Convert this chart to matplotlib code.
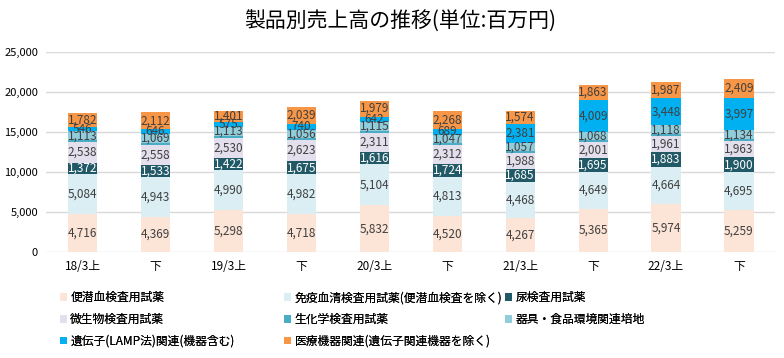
import matplotlib
matplotlib.use('Agg')
import matplotlib.pyplot as plt
import numpy as np

plt.rcParams['font.family'] = ['Noto Sans CJK JP', 'DejaVu Sans']

periods = ['18/3上', '下', '19/3上', '下', '20/3上', '下', '21/3上', '下', '22/3上', '下']

names = ['便潜血検査用試薬', '免疫血清検査用試薬(便潜血検査を除く)', '尿検査用試薬',
         '微生物検査用試薬', '生化学検査用試薬', '器具・食品環境関連培地',
         '遺伝子(LAMP法)関連(機器含む)', '医療機器関連(遺伝子関連機器を除く)']

fobt = [4716, 4369, 5298, 4718, 5832, 4520, 4267, 5365, 5974, 5259]
immuno = [5084, 4943, 4990, 4982, 5104, 4813, 4468, 4649, 4664, 4695]
urine = [1372, 1533, 1422, 1675, 1616, 1724, 1685, 1695, 1883, 1900]
micro = [2538, 2558, 2530, 2623, 2311, 2312, 1988, 2001, 1961, 1963]
biochem = [260, 230, 300, 250, 310, 250, 210, 230, 210, 270]   # no labels
media = [1113, 1069, 1113, 1056, 1115, 1047, 1057, 1068, 1118, 1134]
lamp = [546, 646, 575, 740, 642, 689, 2381, 4009, 3448, 3997]
medical = [1782, 2112, 1401, 2039, 1979, 2268, 1574, 1863, 1987, 2409]

series = [fobt, immuno, urine, micro, biochem, media, lamp, medical]
colors = ['#FCE4D6', '#DAEEF3', '#215967', '#E4DFEC', '#4BACC6', '#92CDDC', '#00B0F0', '#F79646']
txt_colors = ['#404040', '#404040', 'white', '#404040', None, '#404040', '#404040', '#404040']

fig = plt.figure(figsize=(7.84, 3.58), dpi=100)
ax = fig.add_axes([0.059, 0.296, 0.93, 0.559])

x = np.arange(len(periods))
bottom = np.zeros(len(periods))
handles = []
for vals, c, tc, nm in zip(series, colors, txt_colors, names):
    vals = np.array(vals, dtype=float)
    b = ax.bar(x, vals, 0.4, bottom=bottom, color=c, label=nm, zorder=2)
    handles.append(b)
    if tc is not None:
        for xi, v, b0 in zip(x, vals, bottom):
            ax.text(xi, b0 + v / 2, f'{int(v):,}', ha='center', va='center',
                    fontsize=8.5, color=tc, zorder=3)
    bottom += vals

ax.set_xlim(-0.5, 9.5)
ax.set_ylim(0, 25000)
ax.set_yticks(np.arange(0, 25001, 5000))
ax.set_yticklabels([f'{v:,}' for v in range(0, 25001, 5000)], fontsize=8)
ax.set_xticks(x)
ax.set_xticklabels(periods, fontsize=8.5)
ax.tick_params(length=0, pad=6)
ax.grid(axis='y', color='#D9D9D9', linewidth=1, zorder=0)
for s in ax.spines.values():
    s.set_visible(False)

fig.text(0.51, 0.939, '製品別売上高の推移(単位:百万円)', ha='center', va='center', fontsize=15)

# legend: three columns of equal width, filled row by row
cols = [[0, 3, 6], [1, 4, 7], [2, 5]]
col_x = [0.07, 0.356, 0.638]
for idx, cx in zip(cols, col_x):
    lg = fig.legend([handles[i] for i in idx], [names[i] for i in idx], ncol=1,
                    loc='upper left', bbox_to_anchor=(cx, 0.2), frameon=False, fontsize=8.5,
                    handlelength=0.6, handleheight=0.6, handletextpad=0.3,
                    labelspacing=0.75, borderaxespad=0)
    fig.add_artist(lg)

plt.savefig('out.png', dpi=100)
